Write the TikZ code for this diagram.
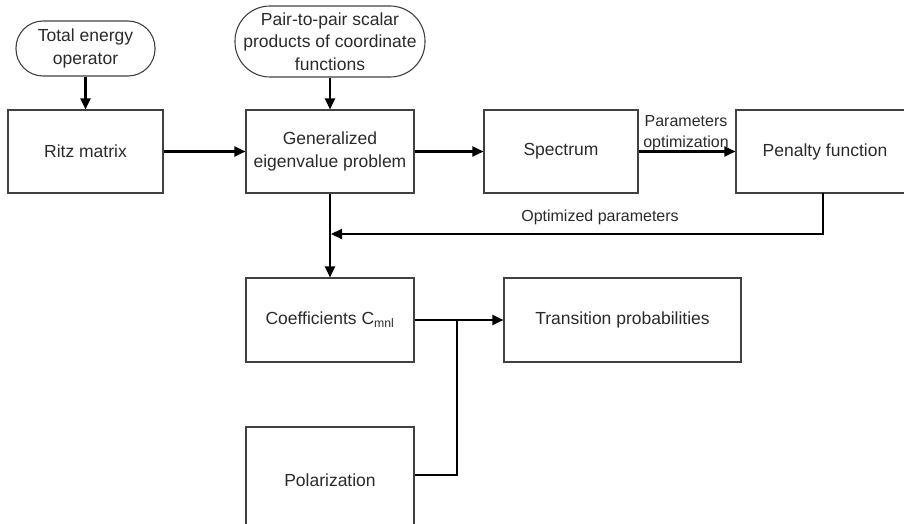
\documentclass[tikz,border=0pt]{standalone}
\usepackage{fontspec}
\setmainfont{Liberation Sans}
\usetikzlibrary{arrows.meta}
\definecolor{boxline}{HTML}{404040}
\definecolor{txt}{HTML}{2A2A2A}
\begin{document}
\begin{tikzpicture}[x=1pt,y=-1pt,
  blockbox/.style={draw=boxline,line width=1.1pt,rectangle,align=center,text=txt,
    font=\fontsize{17.5}{22.5}\selectfont,inner sep=0pt},
  termbox/.style={blockbox},
  conn/.style={line width=2.2pt,black,-{Triangle[length=11pt,width=10pt]}},
  plain/.style={line width=2.2pt,black},
  lbl/.style={text=txt,font=\fontsize{16}{20.5}\selectfont,align=center,inner sep=0pt}]
\useasboundingbox (0,0) rectangle (904,524);
\clip (0,0) rectangle (904,524);
\node[termbox,minimum width=139pt,minimum height=55pt,rounded corners=27pt] (te) at (85.5,48.5) {Total energy\\operator};
\node[termbox,minimum width=190pt,minimum height=71pt,rounded corners=35pt] (pair) at (330,41.5) {Pair-to-pair scalar\\products of coordinate\\functions};
\node[blockbox,minimum width=155pt,minimum height=83pt] (ritz) at (85.5,151.5) {Ritz matrix};
\node[blockbox,minimum width=168pt,minimum height=83pt] (gen) at (330,151.5) {Generalized\\eigenvalue problem};
\node[blockbox,minimum width=154pt,minimum height=83pt] (spec) at (561,151.5) {Spectrum};
\node[blockbox,minimum width=178pt,minimum height=83pt] (pen) at (825,151.5) {Penalty function};
\node[blockbox,minimum width=168pt,minimum height=84pt] (coef) at (330,320) {Coefficients C\textsubscript{mnl}};
\node[blockbox,minimum width=237pt,minimum height=84pt] (trans) at (622.5,320) {Transition probabilities};
\node[blockbox,minimum width=168pt,minimum height=106pt] (pol) at (330,480) {Polarization};
\coordinate (fb) at (331,234);
\coordinate (pensouth) at (823,193);
\coordinate (j) at (457,320);
\coordinate (pj) at (457,475);
\draw[conn] (te.south) -- (ritz.north);
\draw[conn] (pair.south) -- (gen.north);
\draw[conn] (ritz.east) -- (gen.west);
\draw[conn] (gen.east) -- (spec.west);
\draw[conn] (spec.east) -- (pen.west);
\node[lbl] (po) at (686,133) {Parameters\\optimization};
\draw[conn] (pensouth) |- (fb);
\node[lbl] (op) at (600,217) {Optimized parameters};
\draw[conn] (gen.south) -- (coef.north);
\draw[conn] (coef.east) -- (trans.west);
\draw[plain] (pol.east |- pj) -- (pj) -- (j);
\end{tikzpicture}
\end{document}
